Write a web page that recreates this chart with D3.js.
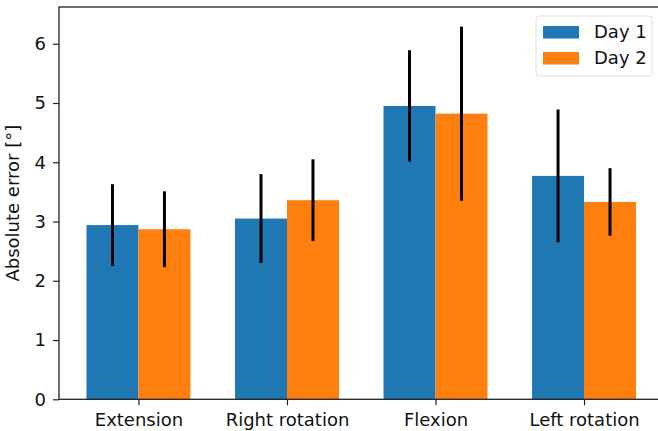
<!DOCTYPE html>
<html lang="en">
<head>
    <meta charset="UTF-8">
    <title>Absolute error by movement</title>
    <style type="text/css">
        html, body { margin:0; padding:0; background:#fff; overflow:hidden }
        svg { display:block }
        svg text { font-family:"DejaVu Sans", sans-serif }
    </style>
</head>
<body>
<script src="https://d3js.org/d3.v7.min.js"></script>
<script>
    var categories = ['Extension', 'Right rotation', 'Flexion', 'Left rotation'];
    var seriesNames = ['Day 1', 'Day 2'];
    var day1 = [2.94, 3.05, 4.95, 3.77];
    var day2 = [2.87, 3.36, 4.82, 3.33];
    var day1Err = [0.69, 0.75, 0.94, 1.12];
    var day2Err = [0.64, 0.69, 1.47, 0.57];
    var yTicks = [0, 1, 2, 3, 4, 5, 6];
    var colors = ['#1f77b4', '#ff7f0e'];

    var width = 658,
        height = 431,
        plotLeft = 59, plotTop = 7, plotBottom = 399.3,
        barW = 0.35,
        fontSize = '18px';

    var series = [day1, day2];
    var errs = [day1Err, day2Err];

    // index scale, matplotlib-like limits
    var xScale = d3.scaleLinear().domain([-0.535, 3.535]).range([plotLeft, 663.5]);
    var yScale = d3.scaleLinear().domain([0, 6.62]).range([plotBottom, plotTop]);

    var svg = d3.select('body').append('svg')
        .attr('width', width)
        .attr('height', height);

    // bars
    series.forEach(function(vals, s) {
        svg.append('g').selectAll('rect')
           .data(vals)
           .enter()
           .append('rect')
           .attr('x', function(d, i) { return xScale(i - barW + s * barW); })
           .attr('width', xScale(barW) - xScale(0))
           .attr('y', function(d) { return yScale(d); })
           .attr('height', function(d) { return yScale(0) - yScale(d); })
           .attr('fill', colors[s]);
    });

    // error bars
    series.forEach(function(vals, s) {
        svg.append('g').selectAll('line')
           .data(vals)
           .enter()
           .append('line')
           .attr('x1', function(d, i) { return xScale(i - barW / 2 + s * barW); })
           .attr('x2', function(d, i) { return xScale(i - barW / 2 + s * barW); })
           .attr('y1', function(d, i) { return yScale(d - errs[s][i]); })
           .attr('y2', function(d, i) { return yScale(d + errs[s][i]); })
           .attr('stroke', '#000')
           .attr('stroke-width', 3);
    });

    // axes
    var xAxis = d3.axisBottom(xScale)
        .tickValues(d3.range(categories.length))
        .tickFormat(function(d) { return categories[d]; })
        .tickSize(6).tickPadding(8);
    var yAxis = d3.axisLeft(yScale)
        .tickValues(yTicks)
        .tickFormat(d3.format('d'))
        .tickSize(6).tickPadding(7);

    var gx = svg.append('g')
        .attr('transform', 'translate(0,' + plotBottom + ')')
        .call(xAxis);
    var gy = svg.append('g')
        .attr('transform', 'translate(' + plotLeft + ',0)')
        .call(yAxis);

    [gx, gy].forEach(function(g) {
        g.attr('font-family', null).attr('font-size', null);
        g.selectAll('.domain').remove();
        g.selectAll('.tick line').attr('stroke', '#222').attr('stroke-width', 1.2);
        g.selectAll('.tick text').attr('fill', '#111').style('font-size', fontSize);
    });

    // spines
    var x0 = xScale.range()[0], x1 = xScale.range()[1];
    svg.append('rect')
       .attr('x', x0).attr('y', plotTop)
       .attr('width', x1 - x0).attr('height', plotBottom - plotTop)
       .attr('fill', 'none')
       .attr('stroke', '#222')
       .attr('stroke-width', 1.3);

    svg.append('text')
       .attr('transform', 'translate(19,' + ((plotTop + plotBottom) / 2) + ') rotate(-90)')
       .attr('text-anchor', 'middle')
       .attr('fill', '#111')
       .style('font-size', fontSize)
       .text('Absolute error [\u00b0]');

    // legend
    var lg = svg.append('g').attr('transform', 'translate(536,16)');
    lg.append('rect')
      .attr('width', 116).attr('height', 60)
      .attr('rx', 3)
      .attr('fill', '#fff').attr('fill-opacity', 0.8)
      .attr('stroke', '#ddd');
    seriesNames.forEach(function(name, i) {
        lg.append('rect')
          .attr('x', 7).attr('y', 10 + i * 26)
          .attr('width', 36).attr('height', 12.5)
          .attr('fill', colors[i]);
        lg.append('text')
          .attr('x', 58).attr('y', 22 + i * 26)
          .attr('fill', '#111')
          .style('font-size', fontSize)
          .text(name);
    });
</script>
</body>
</html>
